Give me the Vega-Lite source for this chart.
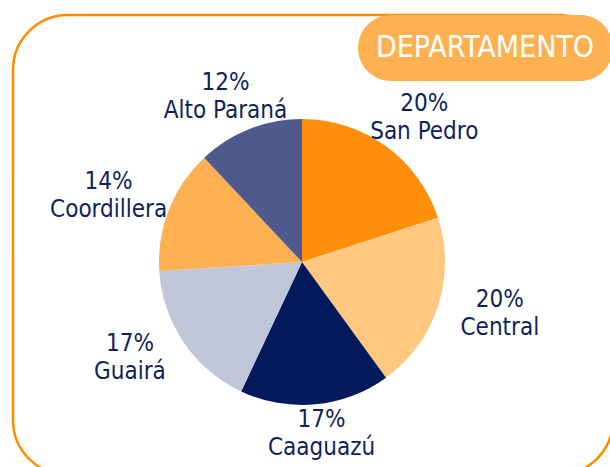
{
  "$schema": "https://vega.github.io/schema/vega-lite/v6.json",
  "width": 600,
  "height": 460,
  "autosize": {"type": "none"},
  "padding": {"left": 13, "top": 15, "right": 0, "bottom": 0},
  "background": "white",
  "view": {"stroke": "#FF8C00", "strokeWidth": 2.5, "cornerRadius": 55, "fill": "white"},
  "data": {
    "values": [
      {"dept": "San Pedro", "share": 0.20, "orden": 1},
      {"dept": "Central", "share": 0.20, "orden": 2},
      {"dept": "Caaguazú", "share": 0.17, "orden": 3},
      {"dept": "Guairá", "share": 0.17, "orden": 4},
      {"dept": "Coordillera", "share": 0.14, "orden": 5},
      {"dept": "Alto Paraná", "share": 0.12, "orden": 6}
    ]
  },
  "encoding": {
    "theta": {"field": "share", "type": "quantitative", "stack": true},
    "order": {"field": "orden", "type": "quantitative"}
  },
  "layer": [
    {
      "mark": {"type": "arc", "radius": 143, "xOffset": -11, "yOffset": 17},
      "encoding": {
        "color": {
          "field": "dept",
          "type": "nominal",
          "scale": {
            "domain": ["San Pedro", "Central", "Caaguazú", "Guairá", "Coordillera", "Alto Paraná"],
            "range": ["#FF8E0A", "#FFC880", "#02195B", "#C1C6D9", "#FFB152", "#4E5A8C"]
          },
          "legend": {
            "values": [],
            "title": "DEPARTAMENTO",
            "orient": "top-right",
            "offset": 0,
            "fillColor": "#FFB152",
            "cornerRadius": 34,
            "padding": 18,
            "titleLimit": 500,
            "titleColor": "white",
            "titleFont": "DejaVu Sans Condensed",
            "titleFontSize": 30,
            "titleFontWeight": "normal"
          }
        }
      }
    },
    {
      "mark": {"type": "text", "radius": 175, "xOffset": -11, "yOffset": 15, "dy": -14, "dx": {"expr": "33*sin(scale('theta', (datum.share_start + datum.share_end) / 2))"}, "font": "DejaVu Sans Condensed", "fontSize": 24, "color": "#0E1F5B"},
      "encoding": {"text": {"field": "share", "type": "quantitative", "format": ".0%"}}
    },
    {
      "mark": {"type": "text", "radius": 175, "xOffset": -11, "yOffset": 15, "dy": 14, "dx": {"expr": "33*sin(scale('theta', (datum.share_start + datum.share_end) / 2))"}, "font": "DejaVu Sans Condensed", "fontSize": 24, "color": "#0E1F5B"},
      "encoding": {"text": {"field": "dept", "type": "nominal"}}
    }
  ]
}
